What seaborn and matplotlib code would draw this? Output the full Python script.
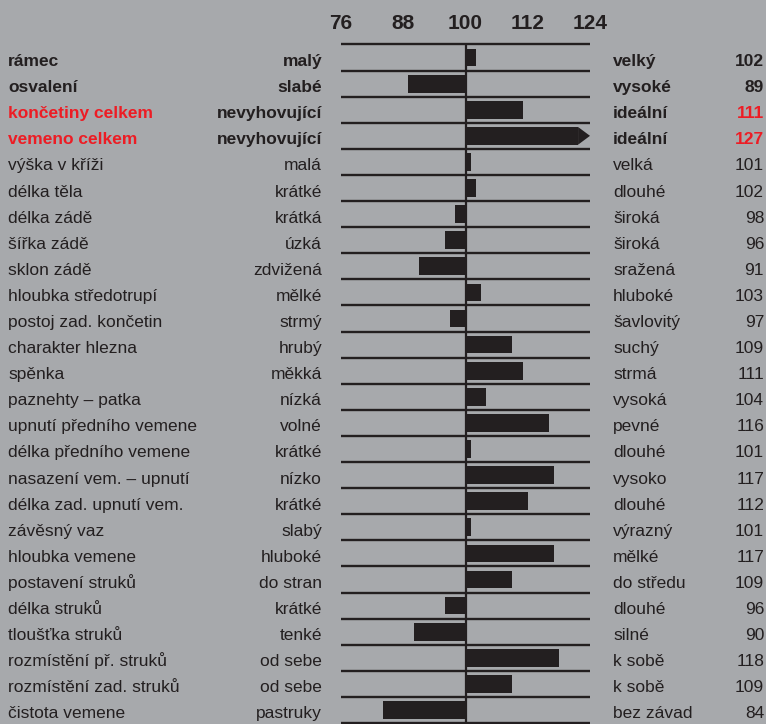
import numpy as np
import pandas as pd
import matplotlib
matplotlib.use("Agg")
import matplotlib.pyplot as plt
import seaborn as sns
from matplotlib.transforms import blended_transform_factory
from matplotlib.patches import Polygon

traits = ["rámec", "osvalení", "končetiny celkem", "vemeno celkem", "výška v kříži",
          "délka těla", "délka zádě", "šířka zádě", "sklon zádě", "hloubka středotrupí",
          "postoj zad. končetin", "charakter hlezna", "spěnka", "paznehty – patka",
          "upnutí předního vemene", "délka předního vemene", "nasazení vem. – upnutí",
          "délka zad. upnutí vem.", "závěsný vaz", "hloubka vemene", "postavení struků",
          "délka struků", "tloušťka struků", "rozmístění př. struků",
          "rozmístění zad. struků", "čistota vemene"]
low_desc = ["malý", "slabé", "nevyhovující", "nevyhovující", "malá", "krátké", "krátká",
            "úzká", "zdvižená", "mělké", "strmý", "hrubý", "měkká", "nízká", "volné",
            "krátké", "nízko", "krátké", "slabý", "hluboké", "do stran", "krátké",
            "tenké", "od sebe", "od sebe", "pastruky"]
high_desc = ["velký", "vysoké", "ideální", "ideální", "velká", "dlouhé", "široká",
             "široká", "sražená", "hluboké", "šavlovitý", "suchý", "strmá", "vysoká",
             "pevné", "dlouhé", "vysoko", "dlouhé", "výrazný", "mělké", "do středu",
             "dlouhé", "silné", "k sobě", "k sobě", "bez závad"]
values = [102, 89, 111, 127, 101, 102, 98, 96, 91, 103, 97, 109, 111, 104, 116, 101,
          117, 112, 101, 117, 109, 96, 90, 118, 109, 84]
bold_rows = [0, 1, 2, 3]
red_rows = [2, 3]
ticks = [76, 88, 100, 112, 124]
base = 100

BG = "#a7a9ac"
DARK = "#231f20"
RED = "#ed1c24"

sns.set_theme(style="white")
plt.rcParams["font.family"] = ["Liberation Sans", "DejaVu Sans"]

W, H = 766, 724
fig = plt.figure(figsize=(W / 100, H / 100), dpi=100, facecolor=BG)
top_px, bot_px, left_px, right_px = 44.5, 723.0, 341.0, 590.0
ax = fig.add_axes([left_px / W, 1 - bot_px / H, (right_px - left_px) / W, (bot_px - top_px) / H])
ax.set_facecolor("none")

lo, hi = ticks[0] - base, ticks[-1] - base
arrow_len = 2.3
delta = np.array(values) - base
shown = np.where(delta > hi, hi - arrow_len, delta)
df = pd.DataFrame({"trait": traits, "delta": shown})

sns.barplot(data=df, x="delta", y="trait", order=traits, orient="h", color=DARK,
            saturation=1, width=0.68, ax=ax, linewidth=0)

for i, d in enumerate(delta):
    if d > hi:
        hw = 0.34
        ax.add_patch(Polygon([(hi - arrow_len, i - hw), (hi, i), (hi - arrow_len, i + hw)],
                             closed=True, color=DARK, lw=0))

n = len(traits)
for k in range(n + 1):
    ax.axhline(k - 0.5, color=DARK, lw=1.7, zorder=3, clip_on=False, solid_capstyle="butt")
ax.axvline(0, color=DARK, lw=1.6, zorder=3, clip_on=False)

ax.set_xlim(lo, hi)
ax.set_ylim(n - 0.5, -0.5)
for s in ax.spines.values():
    s.set_visible(False)
ax.set_ylabel("")
ax.set_xlabel("")
ax.set_yticks([])
ax.xaxis.tick_top()
ax.set_xticks([t - base for t in ticks])
ax.set_xticklabels([str(t) for t in ticks], fontsize=15, fontweight="bold", color=DARK)
ax.tick_params(axis="x", length=0, pad=8.0)

tr = blended_transform_factory(fig.transFigure, ax.transData)
fs = 12.5
row_px = (bot_px - top_px) / n
dy = 8.5 / row_px
for i in range(n):
    w = "bold" if i in bold_rows else "normal"
    c = RED if i in red_rows else DARK
    y = i + dy
    ax.text(8 / W, y, traits[i], transform=tr, ha="left", va="baseline",
            fontsize=fs, fontweight=w, color=c)
    ax.text(322 / W, y, low_desc[i], transform=tr, ha="right", va="baseline",
            fontsize=fs, fontweight=w, color=DARK)
    ax.text(613 / W, y, high_desc[i], transform=tr, ha="left", va="baseline",
            fontsize=fs, fontweight=w, color=DARK)
    ax.text(764 / W, y, str(values[i]), transform=tr, ha="right", va="baseline",
            fontsize=fs, fontweight=w, color=c)

fig.savefig("out.png", dpi=100, facecolor=BG)
